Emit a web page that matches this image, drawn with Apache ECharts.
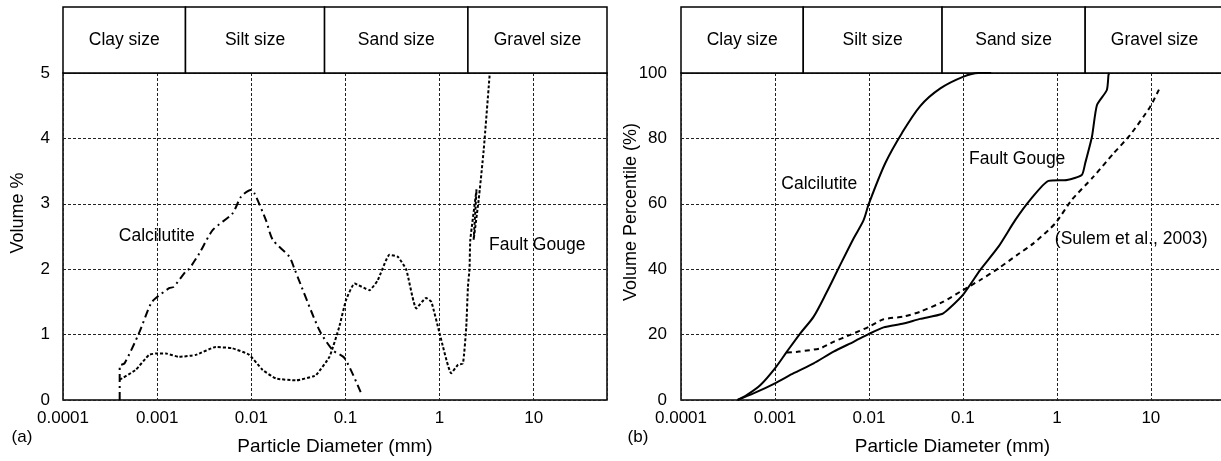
<!DOCTYPE html>
<html><head><meta charset="utf-8">
<script src="https://cdn.jsdelivr.net/npm/echarts/dist/echarts.min.js"></script>
<style>html,body{margin:0;padding:0;background:#fff}#c{width:1221px;height:461px}</style>
</head><body><div id="c"></div>
<script>
// ---- size-class header ----
const sizeClasses = ['Clay size', 'Silt size', 'Sand size', 'Gravel size'];
const sizeBounds = [0.0001, 0.002, 0.06, 2, 60];
const xTickLabels = ['0.0001', '0.001', '0.01', '0.1', '1', '10'];

// ---- panel (a): volume % ----
const calcAX = [0.0004, 0.0004, 0.00045, 0.00064, 0.00086, 0.00097, 0.00134, 0.0015, 0.002, 0.0022, 0.0028, 0.0039, 0.0063, 0.0078, 0.0099, 0.0108, 0.0143, 0.0169, 0.0254, 0.029, 0.0528, 0.0735, 0.098, 0.147];
const calcAY = [0, 0.52, 0.56, 1.02, 1.48, 1.56, 1.71, 1.73, 1.96, 2.01, 2.24, 2.6, 2.85, 3.11, 3.21, 3.16, 2.75, 2.45, 2.19, 1.99, 1.07, 0.76, 0.64, 0.1];
const gougeAX = [0.0004, 0.00059, 0.00082, 0.00097, 0.00124, 0.00171, 0.00258, 0.0042, 0.0063, 0.0095, 0.0132, 0.0183, 0.03, 0.045, 0.0488, 0.0676, 0.086, 0.1016, 0.125, 0.18, 0.22, 0.294, 0.36, 0.443, 0.565, 0.72, 0.817, 1.0, 1.33, 1.57, 1.77, 1.92, 2.0, 2.08, 2.12, 2.47, 2.3, 2.6, 2.94, 3.4];
const gougeAY = [0.31, 0.46, 0.69, 0.71, 0.71, 0.66, 0.69, 0.81, 0.79, 0.69, 0.46, 0.33, 0.30, 0.36, 0.38, 0.66, 1.12, 1.53, 1.78, 1.68, 1.83, 2.22, 2.19, 1.99, 1.40, 1.56, 1.50, 1.02, 0.41, 0.54, 0.56, 1.12, 1.73, 2.01, 2.45, 3.22, 2.45, 3.06, 3.82, 4.97];
const annANames = ['Calcilutite', 'Fault Gouge'];
const annAX = [0.00099, 10.9];
const annAY = [2.51, 2.37];

// ---- panel (b): volume percentile ----
const calcBX = [0.0004, 0.0005, 0.0007, 0.001, 0.00134, 0.00186, 0.00258, 0.00357, 0.00475, 0.00686, 0.00877, 0.01, 0.0149, 0.0224, 0.0351, 0.0575, 0.1016, 0.146, 0.2];
const calcBY = [0, 1.5, 4.6, 9.7, 14.8, 20.4, 25.5, 33.1, 40.3, 49.4, 55, 60.1, 72.4, 81.6, 89.9, 95.3, 98.9, 100, 100];
const gougeBX = [0.0004, 0.00059, 0.001, 0.00158, 0.00258, 0.0042, 0.00686, 0.01, 0.0143, 0.0233, 0.0351, 0.0598, 0.0733, 0.1015, 0.153, 0.239, 0.36, 0.52, 0.815, 1.28, 1.84, 2.0, 2.36, 2.67, 3.4, 3.54, 3.6];
const gougeBY = [0, 2.0, 5.1, 8.2, 11.2, 14.8, 17.8, 20.2, 22.2, 23.4, 24.8, 26.3, 28.3, 32.4, 39.8, 46.9, 55.0, 61.2, 67.0, 67.3, 68.8, 72.4, 80.5, 90.2, 94.8, 99.4, 100];
const sulemX = [0.00134, 0.0018, 0.00303, 0.0042, 0.0063, 0.01, 0.0143, 0.0233, 0.0351, 0.062, 0.1, 0.153, 0.24, 0.375, 0.563, 0.96, 1.44, 2.45, 4.0, 6.0, 9.84, 12.6];
const sulemY = [14.5, 14.8, 15.8, 17.8, 19.9, 22.4, 24.7, 25.5, 27.0, 30.1, 33.6, 36.7, 40.3, 44.3, 47.9, 54.0, 61.2, 68.3, 75.4, 81.0, 89.7, 95.8];
const annBNames = ['Calcilutite', 'Fault Gouge', '(Sulem et al., 2003)'];
const annBX = [0.00296, 0.378, 6.17];
const annBY = [66.1, 73.7, 49.1];

const FONT = '"Liberation Sans", Arial, Helvetica, sans-serif';
const zip = (xs, ys) => xs.map((x, i) => [x, ys[i]]);
const boxData = sizeClasses.map((c, i) => [sizeBounds[i], sizeBounds[i + 1]]);
const gridLine = { show: true, lineStyle: { color: '#222', width: 1, type: [3, 2] } };

function xFmt(v) {
  const l = Math.log10(v), r = Math.round(l);
  if (Math.abs(l - r) > 1e-6) return '';
  return xTickLabels[r + 4] || '';
}

function boxSeries(xi, yi) {
  return {
    type: 'custom', xAxisIndex: xi, yAxisIndex: yi, silent: true, clip: false,
    encode: { x: [0, 1] },
    data: boxData,
    renderItem: (params, api) => {
      const p0 = api.coord([api.value(0), 1]);
      const p1 = api.coord([api.value(1), 0]);
      return {
        type: 'rect',
        shape: { x: p0[0], y: p0[1], width: p1[0] - p0[0], height: p1[1] - p0[1] },
        style: { fill: '#fff', stroke: '#000', lineWidth: 1.5 },
        textContent: { type: 'text', style: { text: sizeClasses[params.dataIndex], fontSize: 17.5, fontFamily: FONT, fill: '#000' } },
        textConfig: { position: 'inside' }
      };
    }
  };
}
function lineSeries(xi, yi, xs, ys, type, smooth) {
  return {
    type: 'line', xAxisIndex: xi, yAxisIndex: yi, data: zip(xs, ys),
    symbol: 'none', smooth: smooth, clip: true,
    lineStyle: { color: '#000', width: 2, type: type }
  };
}
function annSeries(xi, yi, names, xs, ys) {
  return {
    type: 'scatter', xAxisIndex: xi, yAxisIndex: yi, symbolSize: 1,
    itemStyle: { color: 'transparent' },
    data: names.map((n, i) => ({ name: n, value: [xs[i], ys[i]] })),
    label: { show: true, position: 'inside', formatter: '{b}', fontSize: 17.5, fontFamily: FONT, color: '#000', opacity: 1 }
  };
}
function mainX(gi) {
  return {
    type: 'log', gridIndex: gi, min: 0.0001, max: 60, logBase: 10,
    axisLine: { show: false }, axisTick: { show: false },
    axisLabel: { formatter: xFmt, fontSize: 17, fontFamily: FONT, color: '#000', margin: 10 },
    splitLine: gridLine,
    name: 'Particle Diameter (mm)', nameLocation: 'middle', nameGap: 37,
    nameTextStyle: { fontSize: 19, fontFamily: FONT, color: '#000' }
  };
}
const hiddenX = gi => ({ type: 'log', gridIndex: gi, min: 0.0001, max: 60, show: false });
const hiddenY = gi => ({ type: 'value', gridIndex: gi, min: 0, max: 1, show: false });
const gridBase = { outerBoundsMode: 'none', containLabel: false };

const chart = echarts.init(document.getElementById('c'), null, { renderer: 'canvas' });
chart.setOption({
  animation: false,
  textStyle: { fontFamily: FONT },
  grid: [
    Object.assign({ left: 63, top: 7, width: 544, height: 66 }, gridBase),
    Object.assign({ left: 63, top: 73, width: 544, height: 327, show: true, borderColor: '#000', borderWidth: 1.5, backgroundColor: 'transparent' }, gridBase),
    Object.assign({ left: 681, top: 7, width: 543, height: 66 }, gridBase),
    Object.assign({ left: 681, top: 73, width: 543, height: 327, show: true, borderColor: '#000', borderWidth: 1.5, backgroundColor: 'transparent' }, gridBase)
  ],
  xAxis: [hiddenX(0), mainX(1), hiddenX(2), mainX(3)],
  yAxis: [
    hiddenY(0),
    { type: 'value', gridIndex: 1, min: 0, max: 5, interval: 1, axisLine: { show: false }, axisTick: { show: false },
      axisLabel: { fontSize: 17, fontFamily: FONT, color: '#000', margin: 13 }, splitLine: gridLine },
    hiddenY(2),
    { type: 'value', gridIndex: 3, min: 0, max: 100, interval: 20, axisLine: { show: false }, axisTick: { show: false },
      axisLabel: { fontSize: 17, fontFamily: FONT, color: '#000', margin: 14 }, splitLine: gridLine }
  ],
  graphic: [
    { type: 'text', x: 18, y: 213, rotation: Math.PI / 2, style: { text: 'Volume %', fontSize: 18, fontFamily: FONT, fill: '#000', textAlign: 'center', textVerticalAlign: 'middle' } },
    { type: 'text', x: 631, y: 212, rotation: Math.PI / 2, style: { text: 'Volume Percentile (%)', fontSize: 18, fontFamily: FONT, fill: '#000', textAlign: 'center', textVerticalAlign: 'middle' } },
    { type: 'text', x: 22, y: 437, style: { text: '(a)', fontSize: 17, fontFamily: FONT, fill: '#000', textAlign: 'center', textVerticalAlign: 'middle' } },
    { type: 'text', x: 638, y: 437, style: { text: '(b)', fontSize: 17, fontFamily: FONT, fill: '#000', textAlign: 'center', textVerticalAlign: 'middle' } }
  ],
  series: [
    boxSeries(0, 0),
    boxSeries(2, 2),
    lineSeries(1, 1, calcAX, calcAY, [8, 4, 2, 4], 0.25),
    lineSeries(1, 1, gougeAX, gougeAY, [3, 2], 0.15),
    annSeries(1, 1, annANames, annAX, annAY),
    lineSeries(3, 3, calcBX, calcBY, 'solid', 0.3),
    lineSeries(3, 3, gougeBX, gougeBY, 'solid', 0.2),
    lineSeries(3, 3, sulemX, sulemY, [5, 4], 0.2),
    annSeries(3, 3, annBNames, annBX, annBY)
  ]
});
</script>
</body></html>
